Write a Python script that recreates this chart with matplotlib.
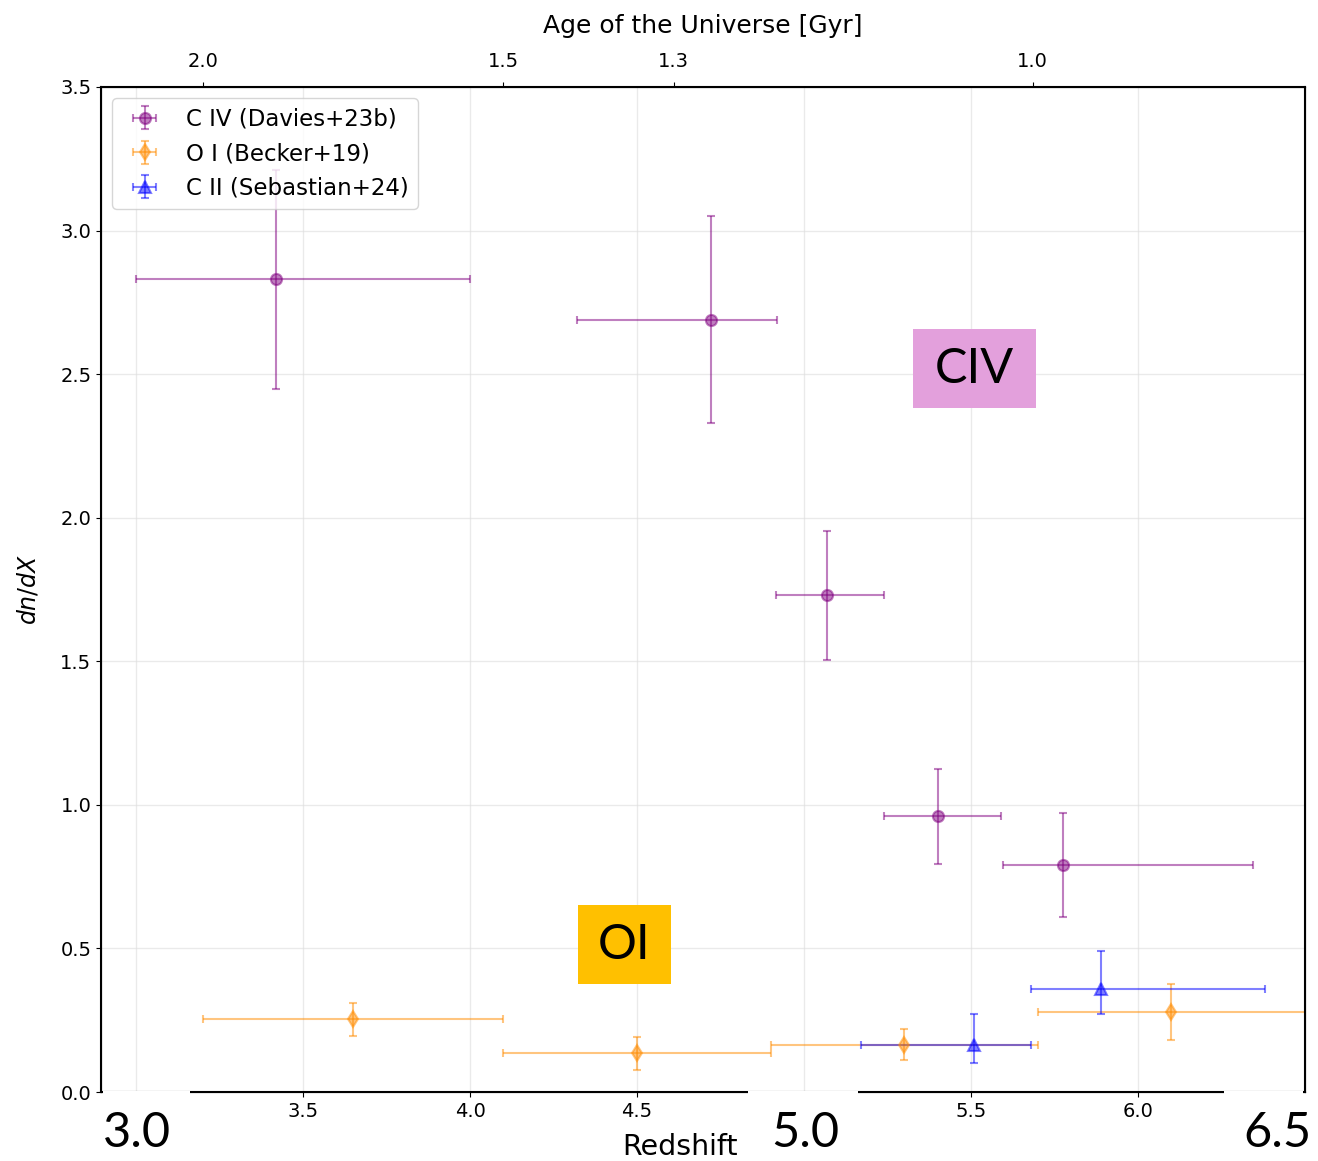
import numpy as np
import matplotlib
matplotlib.use("Agg")
import matplotlib.pyplot as plt
from matplotlib.patches import Rectangle

# C IV (Davies+23b)
civ_z = [3.42, 4.72, 5.07, 5.40, 5.775]
civ_dndx = [2.83, 2.69, 1.73, 0.96, 0.79]
civ_z_lo = [0.42, 0.40, 0.155, 0.16, 0.18]
civ_z_hi = [0.58, 0.20, 0.17, 0.19, 0.57]
civ_err_lo = [0.38, 0.36, 0.225, 0.165, 0.18]
civ_err_hi = [0.38, 0.36, 0.225, 0.165, 0.18]

# O I (Becker+19)
oi_z = [3.65, 4.50, 5.30, 6.10]
oi_dndx = [0.255, 0.135, 0.165, 0.28]
oi_z_lo = [0.45, 0.40, 0.40, 0.40]
oi_z_hi = [0.45, 0.40, 0.40, 0.45]
oi_err_lo = [0.06, 0.06, 0.055, 0.10]
oi_err_hi = [0.055, 0.055, 0.055, 0.095]

# C II (Sebastian+24)
cii_z = [5.51, 5.89]
cii_dndx = [0.165, 0.36]
cii_z_lo = [0.34, 0.21]
cii_z_hi = [0.17, 0.49]
cii_err_lo = [0.065, 0.09]
cii_err_hi = [0.105, 0.13]

# bottom axis ticks (3.0 and 5.0 get the big overlay labels instead)
z_ticks = [3.0, 3.5, 4.0, 4.5, 5.0, 5.5, 6.0]
z_tick_labels = ["", "3.5", "4.0", "4.5", "", "5.5", "6.0"]

# top axis: age of the universe
age_labels = ["2.0", "1.5", "1.3", "1.0"]
age_tick_z = [3.20, 4.10, 4.61, 5.685]

W, H = 1318, 1161


def px_rect(x0, y0, x1, y1, **kw):
    return Rectangle((x0 / W, 1 - y1 / H), (x1 - x0) / W, (y1 - y0) / H,
                     transform=fig.transFigure, **kw)


fig = plt.figure(figsize=(W / 100, H / 100), dpi=100)
ax = fig.add_axes([101 / W, 69 / H, 1204 / W, 1005 / H])

kw = dict(alpha=0.5, capsize=3, elinewidth=1.5, markersize=8,
          markeredgewidth=1.5, linestyle="none")
ax.errorbar(civ_z, civ_dndx, xerr=[civ_z_lo, civ_z_hi],
            yerr=[civ_err_lo, civ_err_hi], fmt="o", color="purple",
            label="C IV (Davies+23b)", **kw)
ax.errorbar(oi_z, oi_dndx, xerr=[oi_z_lo, oi_z_hi],
            yerr=[oi_err_lo, oi_err_hi], fmt="d", color="darkorange",
            label="O I (Becker+19)", **kw)
ax.errorbar(cii_z, cii_dndx, xerr=[cii_z_lo, cii_z_hi],
            yerr=[cii_err_lo, cii_err_hi], fmt="^", color="blue",
            label="C II (Sebastian+24)", **kw)

ax.set_xlim(2.895, 6.5)
ax.set_ylim(0, 3.5)
ax.set_xticks(z_ticks)
ax.set_xticklabels(z_tick_labels)
ax.set_yticks(np.arange(0, 3.51, 0.5))
ax.tick_params(labelsize=14)
ax.grid(True, color="#dddddd", linewidth=1, alpha=0.6)
for s in ax.spines.values():
    s.set_linewidth(1.5)
ax.set_ylabel("$dn/dX$", fontsize=17, labelpad=14)
ax.legend(loc="upper left", fontsize=16.5)

top = ax.twiny()
top.set_xlim(ax.get_xlim())
top.set_xticks(age_tick_z)
top.set_xticklabels(age_labels)
top.tick_params(labelsize=14, pad=8)
top.set_xlabel("Age of the Universe [Gyr]", fontsize=18, labelpad=14)

# white boxes with large redshift labels over the bottom axis
for x0, x1, txt, xc in [(103, 190, "3.0", 137), (748, 858, "5.0", 805),
                        (1224, 1303, "6.5", 1277)]:
    fig.add_artist(px_rect(x0, 1091, x1, 1161, facecolor="white",
                           edgecolor="none", zorder=10))
    fig.text(xc / W, 1 - 1133 / H, txt, fontsize=35, family="Lato",
             ha="center", va="center", zorder=11)

fig.text(680 / W, 1 - 1147 / H, "Redshift", fontsize=20.5,
         ha="center", va="center", zorder=11)

# species boxes
fig.add_artist(px_rect(913, 329, 1036, 408, facecolor="#e3a0dc",
                       edgecolor="none", zorder=10))
fig.text(974 / W, 1 - 369 / H, "CIV", fontsize=35, family="Lato",
         ha="center", va="center", zorder=11)
fig.add_artist(px_rect(578, 905, 671, 984, facecolor="#ffc000",
                       edgecolor="none", zorder=10))
fig.text(624 / W, 1 - 945 / H, "OI", fontsize=35, family="Lato",
         ha="center", va="center", zorder=11)

fig.savefig("out.png", dpi=100)
